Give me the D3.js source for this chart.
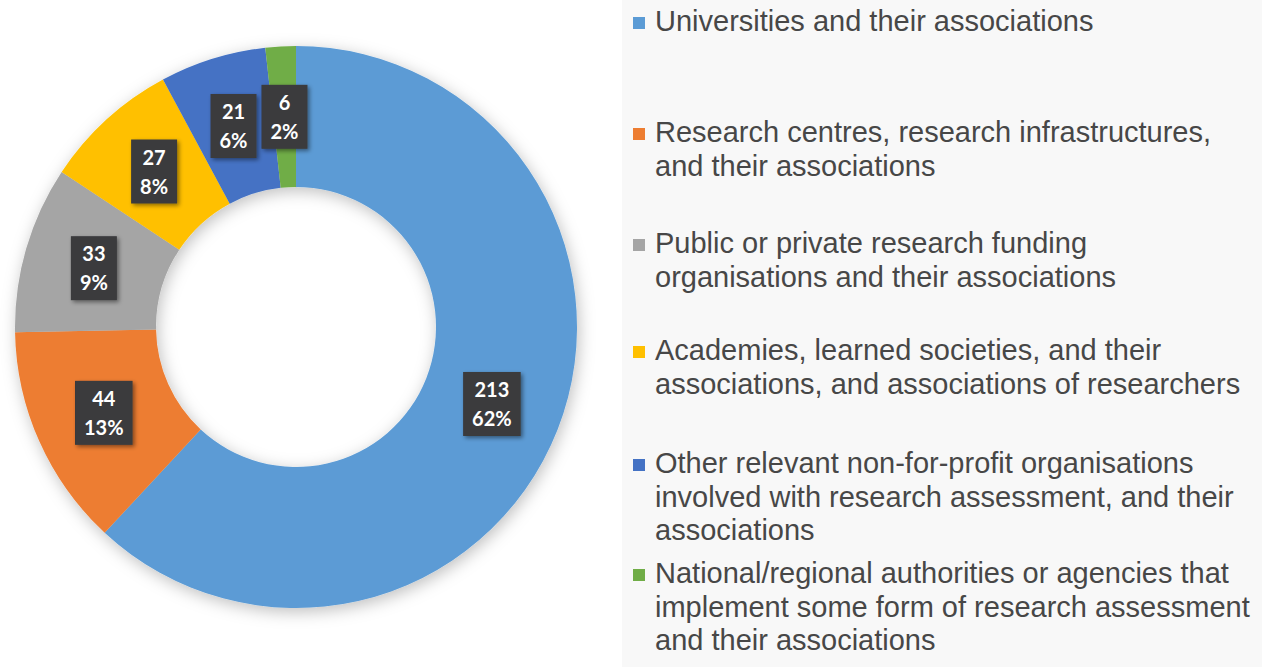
<!DOCTYPE html>
<html>
<head>
<meta charset="utf-8">
<script src="https://cdn.jsdelivr.net/npm/d3@7"></script>
<style>
  html, body { margin: 0; padding: 0; background: #ffffff; }
  svg { display: block; }
</style>
</head>
<body>
<svg id="chart" width="1266" height="667"></svg>
<script>
// ---- data ----
const categories = [
  "Universities and their associations",
  "Research centres, research infrastructures,\nand their associations",
  "Public or private research funding\norganisations and their associations",
  "Academies, learned societies, and their\nassociations, and associations of researchers",
  "Other relevant non-for-profit organisations\ninvolved with research assessment, and their\nassociations",
  "National/regional authorities or agencies that\nimplement some form of research assessment\nand their associations"
];
const values = [213, 44, 33, 27, 21, 6];
const percentLabels = ["62%", "13%", "9%", "8%", "6%", "2%"];
const palette = ["#5B9BD5", "#ED7D31", "#A5A5A5", "#FFC000", "#4472C4", "#70AD47"];

// ---- layout ----
const W = 1266, H = 667;
const cx = 296, cy = 327, R = 281, r0 = 140;
const legendX = 633, legendTextX = 655;
const legendBaselines = [31, 142, 253, 360, 473, 583];
const legendLineH = 33.5;

const svg = d3.select("#chart");
const defs = svg.append("defs");

const sh = defs.append("filter").attr("id", "donutShadow")
  .attr("x", "-20%").attr("y", "-20%").attr("width", "140%").attr("height", "140%");
sh.append("feDropShadow").attr("dx", 2).attr("dy", 4).attr("stdDeviation", 8)
  .attr("flood-color", "#000").attr("flood-opacity", 0.25);

const bsh = defs.append("filter").attr("id", "boxShadow")
  .attr("x", "-30%").attr("y", "-30%").attr("width", "160%").attr("height", "160%");
bsh.append("feDropShadow").attr("dx", 2).attr("dy", 2).attr("stdDeviation", 2)
  .attr("flood-color", "#000").attr("flood-opacity", 0.45);

// legend background
svg.append("rect").attr("x", 622).attr("y", 0).attr("width", 640).attr("height", H)
  .attr("fill", "#f8f8f8");

const color = d3.scaleOrdinal().domain(d3.range(values.length)).range(palette);

const pie = d3.pie().sort(null).value(d => d).startAngle(0).endAngle(2 * Math.PI);
const arcs = pie(values);
const arc = d3.arc().innerRadius(r0).outerRadius(R);

const g = svg.append("g").attr("transform", `translate(${cx},${cy})`);
g.append("g").attr("filter", "url(#donutShadow)")
  .selectAll("path").data(arcs).join("path")
  .attr("d", arc)
  .attr("fill", (d, i) => color(i));

// data labels
const labelFont = "bold 20px Lato, 'Open Sans', sans-serif";
const lbl = g.selectAll("g.lbl").data(arcs).join("g").attr("class", "lbl")
  .attr("transform", d => { const c = arc.centroid(d); return `translate(${c[0]},${c[1]})`; });

lbl.each(function(d, i) {
  const sel = d3.select(this);
  const t1 = String(values[i]), t2 = percentLabels[i];
  const rect = sel.append("rect").attr("fill", "#3a3a3c").attr("filter", "url(#boxShadow)");
  const txt = sel.append("text").attr("text-anchor", "middle")
    .style("font", labelFont).attr("fill", "#ffffff");
  txt.append("tspan").attr("x", 0).attr("y", -7).text(t1);
  txt.append("tspan").attr("x", 0).attr("y", 22).text(t2);
  const bb = txt.node().getBBox();
  const w = bb.width + 18, h = 64;
  rect.attr("x", -w / 2).attr("y", -32).attr("width", w).attr("height", h);
});

// legend
const leg = svg.append("g");
categories.forEach((c, i) => {
  const y0 = legendBaselines[i];
  leg.append("rect").attr("x", legendX).attr("y", y0 - 14).attr("width", 12).attr("height", 12)
    .attr("fill", color(i));
  const t = leg.append("text")
    .attr("font-family", "'Liberation Sans', Arial, sans-serif")
    .attr("font-size", 29).attr("fill", "#474747");
  c.split("\n").forEach((line, k) => {
    t.append("tspan").attr("x", legendTextX).attr("y", y0 + k * legendLineH).text(line);
  });
});
</script>
</body>
</html>
